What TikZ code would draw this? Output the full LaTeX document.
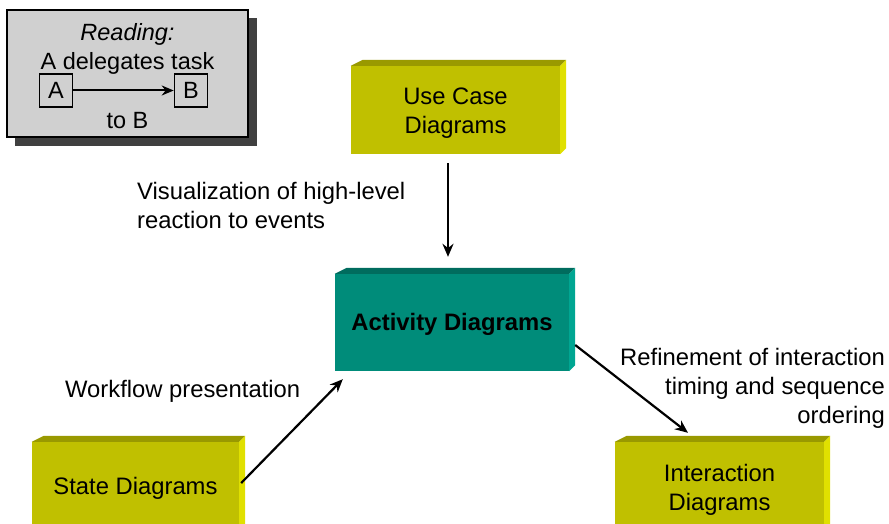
\documentclass[tikz,border=0pt]{standalone}
\usepackage{fontspec}
\setmainfont{Liberation Sans}
\usetikzlibrary{arrows.meta,calc}
\definecolor{olivefront}{RGB}{192,192,0}
\definecolor{olivetop}{RGB}{153,153,0}
\definecolor{oliveside}{RGB}{224,224,0}
\definecolor{tealfront}{RGB}{0,140,122}
\definecolor{tealtop}{RGB}{0,108,94}
\definecolor{tealside}{RGB}{0,166,146}
\definecolor{legendfill}{RGB}{208,208,208}
\definecolor{legendshadow}{RGB}{64,64,64}
\tikzset{
  txt/.style={font=\fontsize{23.8}{29}\selectfont, inner sep=0pt},
  legtxt/.style={font=\fontsize{23.5}{29}\selectfont, inner sep=0pt},
  block/.style={draw=none, inner sep=0pt},
  conn/.style={line width=2.2pt, -{Stealth[length=13pt,width=11pt]}},
  smallbox/.style={draw, line width=1.6pt, minimum width=33pt, minimum height=33pt, inner sep=0pt, font=\fontsize{23.5}{29}\selectfont}
}
% top and right faces of a block: node name, top colour, side colour, depth
\newcommand{\blockfaces}[4]{%
  \fill[#2] (#1.north west) -- ++(12,-#4) -- ($(#1.north east)+(#4,-#4)$) -- (#1.north east) -- cycle;
  \fill[#3] (#1.north east) -- ++(#4,-#4) -- ($(#1.south east)+(#4,-#4)$) -- (#1.south east) -- cycle;
}
\begin{document}
\begin{tikzpicture}[x=1pt,y=-1pt]
\useasboundingbox (0,0) rectangle (889,524);

% legend
\fill[legendshadow] (15,18) rectangle (257,146);
\draw[fill=legendfill, line width=2pt] (7,10) rectangle (248,137);
\node[legtxt] (rd) at (127.5,34) {\itshape Reading:};
\node[legtxt] (dl) at (127.5,63) {A delegates task};
\node[smallbox] (la) at (56,90.5) {A};
\node[smallbox] (lb) at (191,90.5) {B};
\draw[line width=2pt, -{Stealth[length=12pt,width=10pt]}] (la) -- (lb);
\node[legtxt] (tb) at (127.5,121) {to B};

% blocks
\node[block, fill=olivefront, minimum width=209pt, minimum height=88pt] (uc) at (455.5,110) {};
\blockfaces{uc}{olivetop}{oliveside}{6}
\node[txt, align=center] (uct) at ($(uc.center)+(0,3)$) {Use Case\\Diagrams};

\node[block, fill=tealfront, minimum width=234pt, minimum height=97pt] (act) at (452,322.5) {};
\blockfaces{act}{tealtop}{tealside}{6}
\node[txt, font=\fontsize{23.8}{29}\selectfont\bfseries] (actt) at ($(act.center)+(0,2)$) {Activity Diagrams};

\node[block, fill=olivefront, minimum width=207pt, minimum height=90pt] (st) at (135.5,487) {};
\blockfaces{st}{olivetop}{oliveside}{6}
\node[txt] (stt) at ($(st.center)+(0,1.5)$) {State Diagrams};

\node[block, fill=olivefront, minimum width=209pt, minimum height=90pt] (ia) at (719.5,487) {};
\blockfaces{ia}{olivetop}{oliveside}{6}
\node[txt, align=center] (iat) at ($(ia.center)+(0,3)$) {Interaction\\Diagrams};

% connectors
\draw[conn] ($(uc.south)+(-7.5,9)$) -- ($(act.north)+(-4,-17)$);
\draw[conn] ($(st.east)+(2,-4)$) -- ($(act.south west)+(8,8)$);
\draw[conn] ($(act.east)+(6,22.5)$) -- ($(ia.north)+(-31.5,-9)$);

% connector labels
\node[txt, align=left, anchor=west] (l1) at (137,205.5) {Visualization of high-level\\reaction to events};
\node[txt, anchor=west] (l2) at (65,391.5) {Workflow presentation};
\node[txt, align=right, anchor=east] (l3) at (885,388) {Refinement of interaction\\timing and sequence\\ordering};
\end{tikzpicture}
\end{document}
